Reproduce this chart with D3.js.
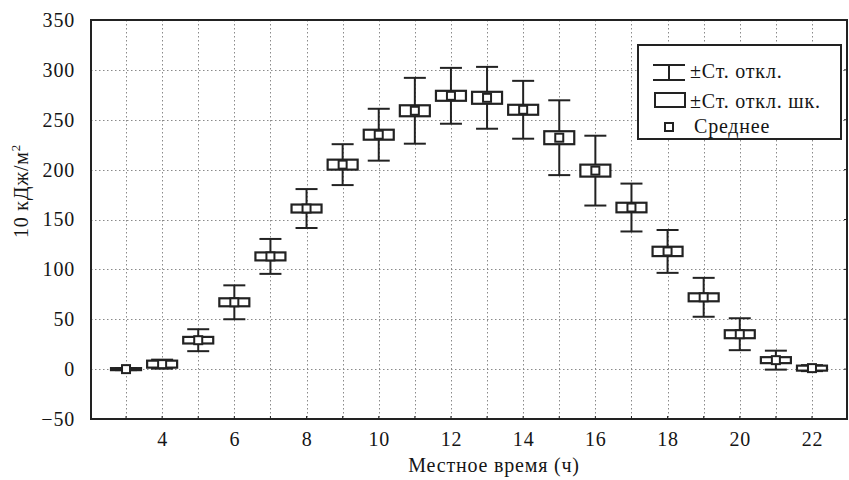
<!DOCTYPE html>
<html>
<head>
<meta charset="utf-8">
<script src="https://cdn.jsdelivr.net/npm/d3@7"></script>
<style>
    body { margin: 0; background: #fff; }
    svg text { font-family: "Liberation Serif", "Times New Roman", serif; fill: #151515; letter-spacing: 0.8px; }
</style>
</head>
<body>
<svg id="chart" width="849" height="480"></svg>
<script>
/* hours of local time */
var HOURS = [3, 4, 5, 6, 7, 8, 9, 10, 11, 12, 13, 14, 15, 16, 17, 18, 19, 20, 21, 22];
/* mean, standard error, standard deviation (10 kJ/m2) */
var MEANS = [0, 5, 29, 67, 113, 161, 205, 235, 259, 274, 272, 260, 232, 199, 162, 118, 72, 35, 9, 1];
var SE = [1, 3.5, 3.3, 4, 4, 4, 5, 5, 5.5, 5, 6, 5, 6.5, 6, 4.8, 4.7, 4, 4, 3, 2.5];
var SD = [1, 4.5, 11, 17, 17.5, 19.5, 20.5, 26, 33, 28, 31, 29, 37.5, 35, 24, 21.5, 19.5, 16, 9.5, 3];

var X_TICKS = [4, 6, 8, 10, 12, 14, 16, 18, 20, 22];
var Y_TICKS = [-50, 0, 50, 100, 150, 200, 250, 300, 350];
var LEGEND_LABELS = ["±Ст. откл.", "±Ст. откл. шк.", "Среднее"];

var INK = "#222";
var FONT = "'Liberation Serif', 'Times New Roman', serif";

function init() {
    var svg = d3.select("#chart");
    var left = 91, right = 847, top = 20, bottom = 419;

    var x = d3.scaleLinear().domain([2.03, 22.97]).range([left, right]);
    var y = d3.scaleLinear().domain([-50, 350]).range([bottom, top]);

    var rows = HOURS.map(function (h, i) {
        return { hour: h, mean: MEANS[i], se: SE[i], sd: SD[i] };
    });

    /* grid */
    var grid = svg.append("g").attr("stroke", "#8a8a8a").attr("stroke-width", 1)
        .attr("stroke-dasharray", "1.5,2.5");
    grid.selectAll(".vgrid").data(HOURS).enter().append("line")
        .attr("x1", function (d) { return Math.round(x(d)) + 0.5; })
        .attr("x2", function (d) { return Math.round(x(d)) + 0.5; })
        .attr("y1", top).attr("y2", bottom);
    grid.selectAll(".hgrid").data(Y_TICKS.slice(1, -1)).enter().append("line")
        .attr("y1", function (d) { return Math.round(y(d)) + 0.5; })
        .attr("y2", function (d) { return Math.round(y(d)) + 0.5; })
        .attr("x1", left).attr("x2", right);

    /* axes */
    var xAxis = svg.append("g")
        .attr("transform", "translate(0," + bottom + ")")
        .call(d3.axisBottom(x).tickValues(X_TICKS).tickSize(0).tickPadding(13)
            .tickFormat(d3.format("d")));
    xAxis.attr("font-family", FONT).attr("font-size", 20);
    xAxis.select(".domain").remove();
    xAxis.selectAll("text").attr("fill", INK);

    var yAxis = svg.append("g")
        .attr("transform", "translate(" + left + ",0)")
        .call(d3.axisLeft(y).tickValues(Y_TICKS).tickSize(0).tickPadding(16)
            .tickFormat(function (d) { return d < 0 ? "\u2212" + Math.abs(d) : d; }));
    yAxis.attr("font-family", FONT).attr("font-size", 20);
    yAxis.select(".domain").remove();
    yAxis.selectAll("text").attr("fill", INK);

    /* small inner ticks */
    var ticks = svg.append("g").attr("stroke", INK).attr("stroke-width", 1);
    ticks.selectAll(".bt").data(HOURS).enter().append("line")
        .attr("x1", function (d) { return x(d); }).attr("x2", function (d) { return x(d); })
        .attr("y1", bottom).attr("y2", bottom - 3);
    ticks.selectAll(".rt").data(Y_TICKS).enter().append("line")
        .attr("y1", function (d) { return y(d); }).attr("y2", function (d) { return y(d); })
        .attr("x1", right).attr("x2", right - 3);

    /* whiskers (±SD) */
    var capW = 22, boxW = 30, dotS = 8;
    var items = svg.append("g").selectAll(".item").data(rows).enter().append("g");
    items.append("line")
        .attr("x1", function (d) { return x(d.hour); }).attr("x2", function (d) { return x(d.hour); })
        .attr("y1", function (d) { return y(d.mean + d.sd); })
        .attr("y2", function (d) { return y(d.mean - d.sd); })
        .attr("stroke", INK).attr("stroke-width", 2);
    [1, -1].forEach(function (s) {
        items.append("line")
            .attr("x1", function (d) { return x(d.hour) - capW / 2; })
            .attr("x2", function (d) { return x(d.hour) + capW / 2; })
            .attr("y1", function (d) { return y(d.mean + s * d.sd); })
            .attr("y2", function (d) { return y(d.mean + s * d.sd); })
            .attr("stroke", INK).attr("stroke-width", 2);
    });
    /* boxes (±SE) */
    items.append("rect")
        .attr("x", function (d) { return x(d.hour) - boxW / 2; })
        .attr("y", function (d) { return y(d.mean + d.se); })
        .attr("width", boxW)
        .attr("height", function (d) { return y(d.mean - d.se) - y(d.mean + d.se); })
        .attr("fill", "#fff").attr("stroke", INK).attr("stroke-width", 2.2);
    /* mean */
    items.append("rect")
        .attr("x", function (d) { return x(d.hour) - dotS / 2; })
        .attr("y", function (d) { return y(d.mean) - dotS / 2; })
        .attr("width", dotS).attr("height", dotS)
        .attr("fill", "#fff").attr("stroke", INK).attr("stroke-width", 2);

    /* frame */
    svg.append("rect")
        .attr("x", left).attr("y", top).attr("width", right - left).attr("height", bottom - top)
        .attr("fill", "none").attr("stroke", INK).attr("stroke-width", 2);

    /* axis titles */
    svg.append("text").attr("x", 494).attr("y", 472)
        .attr("text-anchor", "middle").attr("font-size", 20).text("Местное время (ч)");
    var yt = svg.append("text").attr("transform", "translate(28,191) rotate(-90)")
        .attr("text-anchor", "middle").attr("font-size", 20);
    yt.append("tspan").text("10 кДж/м");
    yt.append("tspan").attr("font-size", 13).attr("dy", -8).text("2");

    /* legend */
    var lg = svg.append("g");
    lg.append("rect").attr("x", 638).attr("y", 45).attr("width", 203).attr("height", 94)
        .attr("fill", "#fff").attr("stroke", INK).attr("stroke-width", 2);
    lg.append("line").attr("x1", 669).attr("x2", 669).attr("y1", 65).attr("y2", 80)
        .attr("stroke", INK).attr("stroke-width", 2);
    [65, 80].forEach(function (yy) {
        lg.append("line").attr("x1", 653).attr("x2", 685).attr("y1", yy).attr("y2", yy)
            .attr("stroke", INK).attr("stroke-width", 2);
    });
    lg.append("rect").attr("x", 655).attr("y", 93).attr("width", 30).attr("height", 14)
        .attr("fill", "#fff").attr("stroke", INK).attr("stroke-width", 2);
    lg.append("rect").attr("x", 665).attr("y", 123).attr("width", 8).attr("height", 8)
        .attr("fill", "#fff").attr("stroke", INK).attr("stroke-width", 2);
    lg.selectAll(".lt").data(LEGEND_LABELS).enter().append("text")
        .attr("x", function (d, i) { return i === 2 ? 694 : 690; })
        .attr("y", function (d, i) { return [78, 108, 133][i]; })
        .attr("font-size", 20).text(function (d) { return d; });
}

init();
</script>
</body>
</html>
